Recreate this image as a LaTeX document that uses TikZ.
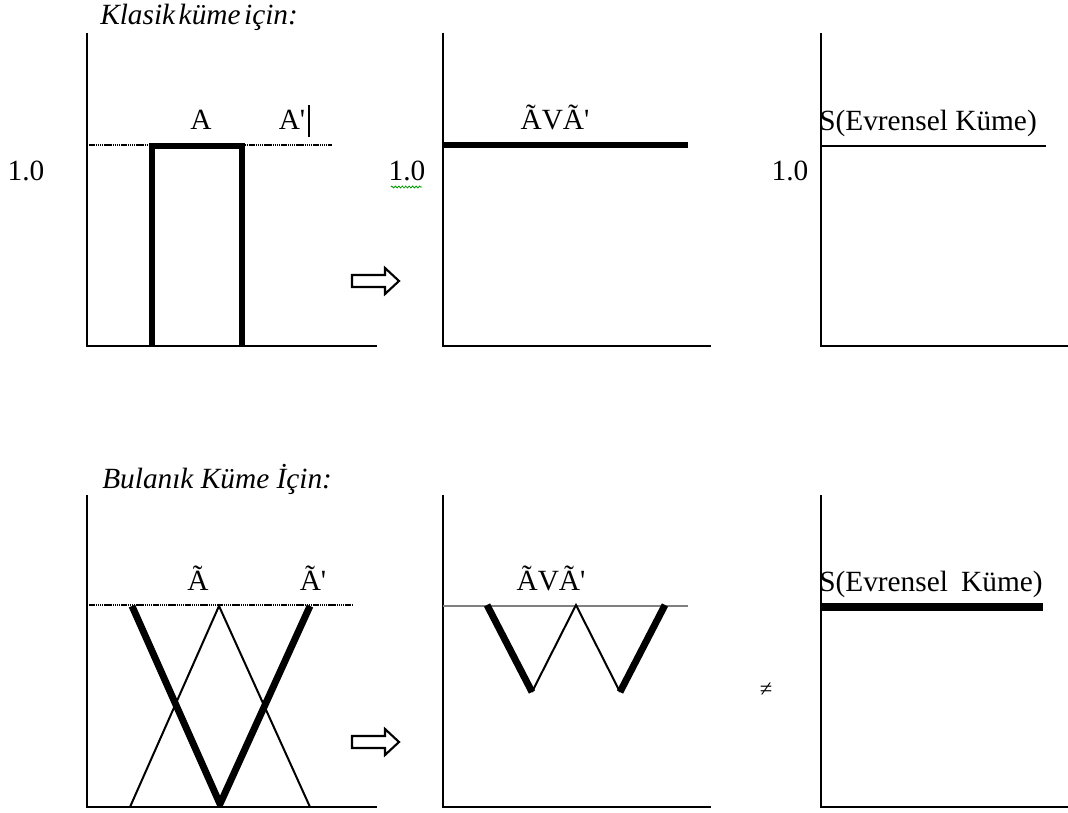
\documentclass[tikz,border=0pt]{standalone}
\usepackage{fontspec}
\setmainfont{Liberation Serif}[Ligatures=TeXOff]
\usetikzlibrary{decorations.pathmorphing}
\begin{document}
\begin{tikzpicture}[x=0.75pt,y=-0.75pt,
  lbl/.style={font=\fontsize{22}{26}\selectfont, inner sep=0pt, anchor=base},
  lblw/.style={lbl, anchor=base west},
  ttl/.style={lbl, font=\fontsize{22}{26}\selectfont\itshape, anchor=base west},
  axis/.style={line width=1.7pt, line join=miter},
  heavy/.style={line width=5.2pt, line join=miter},
  light/.style={line width=1.5pt},
  level/.style={line width=2pt, dash pattern=on 1.1pt off 0.5pt},
  hollowarrow/.style={line width=1.6pt, line join=miter}]
\useasboundingbox (0,0) rectangle (1068,813);

% ---------- crisp sets ----------
\node[ttl] (t1) at (100,25) {Klasik\hspace{0.12em}küme\hspace{0.12em}için:};

% complement of a crisp set
\draw[axis] (87,33) -- (87,346) -- (377,346);
\draw[level] (87,145) -- (332,145);
\draw[heavy] (152,347) -- (152,146) -- (242,146) -- (242,347);
\node[lbl] (a) at (201,130) {A};
\node[lbl] (ac) at (292,130) {A'};
\draw[line width=1.2pt] (309,105) -- (309,137);
\node[lbl] (one1) at (26,181) {1.0};

\draw[hollowarrow] (352,275) -- (385,275) -- (385,268) -- (399,281) -- (385,294) -- (385,287) -- (352,287) -- cycle;

% union
\draw[axis] (443,33) -- (443,346) -- (711,346);
\draw[heavy] (443,145) -- (688,145);
\node[lbl] (u1) at (555,130) {ÃVÃ'};
\node[lbl] (one2) at (407,181) {1.0};
\draw[green!60!black, line width=0.6pt, decorate,
      decoration={zigzag, segment length=2.6pt, amplitude=0.7pt}] (391,187) -- (422,187);

% universal set
\draw[axis] (821,33) -- (821,346) -- (1068,346);
\draw[line width=2.1pt] (821,146) -- (1046,146);
\node[lblw] (s1) at (819,131) {S(Evrensel Küme)};
\node[lbl] (one3) at (790,181) {1.0};

% ---------- fuzzy sets ----------
\node[ttl] (t2) at (102,488) {Bulanık Küme İçin:};

% a fuzzy set and its complement
\draw[axis] (87,495) -- (87,807) -- (377,807);
\draw[level] (87,605) -- (353,605);
\draw[light] (130,807) -- (219,606) -- (310,807);
\draw[heavy, line join=round] (132,606) -- (220,804) -- (310,606);
\node[lbl] (fa) at (198,590) {Ã};
\node[lbl] (fac) at (313,590) {Ã'};

\draw[hollowarrow] (352,736) -- (385,736) -- (385,729) -- (399,742) -- (385,755) -- (385,748) -- (352,748) -- cycle;

% union of the fuzzy sets
\draw[axis] (443,495) -- (443,807) -- (711,807);
\draw[gray, line width=1.1pt] (443,606) -- (688,606);
\draw[heavy, line join=round] (487,605) -- (532,692);
\draw[light] (532,692) -- (576,605) -- (620,692);
\draw[heavy, line join=round] (620,692) -- (665,605);
\node[lbl] (u2) at (551,590) {ÃVÃ'};

% universal set, not reached
\node[font=\fontsize{17}{20}\selectfont, inner sep=0pt] (ne) at (766,690) {≠};
\draw[axis] (821,495) -- (821,807) -- (1068,807);
\draw[line width=5.4pt] (821,607) -- (1043,607);
\node[lblw] (s2) at (819,591) {S(Evrensel\hspace{0.45em}Küme)};
\end{tikzpicture}
\end{document}
